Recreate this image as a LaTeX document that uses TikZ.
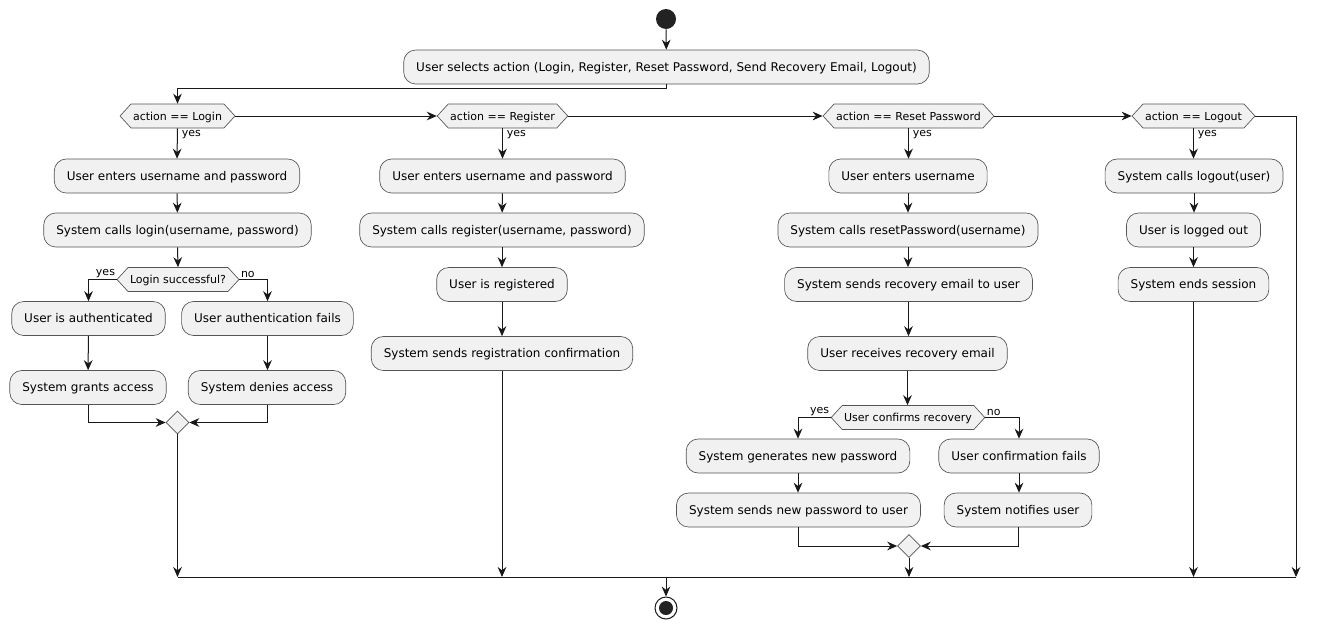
\documentclass[tikz,border=0pt]{standalone}
\usepackage{fontspec}
\setmainfont{DejaVu Sans}
\usetikzlibrary{arrows.meta,shapes.geometric,shapes.symbols}
\definecolor{boxfill}{HTML}{F1F1F1}
\definecolor{ink}{HTML}{181818}
\definecolor{edge}{HTML}{555555}
\definecolor{dot}{HTML}{222222}
\begin{document}
\begin{tikzpicture}[x=0.75pt,y=-0.75pt,
  act/.style={draw=edge, fill=boxfill, line width=0.5pt, rounded corners=9pt, minimum height=25.5pt, inner xsep=9.4pt, inner ysep=0pt, text height=6.6pt, text depth=0pt, font=\fontsize{9pt}{11pt}\selectfont},
  dec/.style={signal, signal to=east and west, signal pointer angle=95, draw=edge, fill=boxfill, line width=0.5pt, minimum height=18pt, inner xsep=1.5pt, inner ysep=0pt, text height=6pt, text depth=0pt, font=\fontsize{8.25pt}{10pt}\selectfont},
  mrg/.style={diamond, aspect=1, draw=edge, fill=boxfill, line width=0.5pt, minimum size=17.25pt, inner sep=0pt},
  arr/.style={draw=ink, line width=0.75pt, -{Stealth[length=7.5pt,width=6.5pt,inset=2.5pt]}},
  ln/.style={draw=ink, line width=0.75pt},
  lbl/.style={font=\fontsize{8.25pt}{10pt}\selectfont, inner sep=1pt, text=black}
]
\useasboundingbox (0,0) rectangle (1320,629);
\fill[white] (0,0) rectangle (1320,629);

% start / top
\node[circle, fill=dot, minimum size=15pt, inner sep=0pt] (start) at (666,19) {};
\node[act] (sel) at (666.5,67) {User selects action (Login, Register, Reset Password, Send Recovery Email, Logout)};

% decisions
\node[dec] (d1) at (177.5,116) {action == Login};
\node[dec] (d2) at (502.5,116) {action == Register};
\node[dec] (d3) at (908.5,116) {action == Reset Password};
\node[dec] (d4) at (1193.5,116) {action == Logout};

% login branch
\node[act] (l1) at (177,176) {User enters username and password};
\node[act] (l2) at (177.5,230) {System calls login(username, password)};
\node[dec] (ls) at (178,279.5) {Login successful?};
\node[act] (la) at (88.5,318.5) {User is authenticated};
\node[act] (lf) at (267.5,318.5) {User authentication fails};
\node[act] (lg) at (88,387.5) {System grants access};
\node[act] (ld) at (267,387.5) {System denies access};
\node[mrg] (m1) at (177.5,422.5) {};

% register branch
\node[act] (r1) at (502.5,176) {User enters username and password};
\node[act] (r2) at (502,230) {System calls register(username, password)};
\node[act] (r3) at (502,284.5) {User is registered};
\node[act] (r4) at (502,353.5) {System sends registration confirmation};

% reset branch
\node[act] (p1) at (908,176) {User enters username};
\node[act] (p2) at (908,230) {System calls resetPassword(username)};
\node[act] (p3) at (908.5,284.5) {System sends recovery email to user};
\node[act] (p4) at (907.5,353.5) {User receives recovery email};
\node[dec] (pc) at (908,417.5) {User confirms recovery};
\node[act] (py1) at (798,456) {System generates new password};
\node[act] (py2) at (798.5,510) {System sends new password to user};
\node[act] (pn1) at (1019,456) {User confirmation fails};
\node[act] (pn2) at (1018,510) {System notifies user};
\node[mrg] (m2) at (909,546) {};

% logout branch
\node[act] (o1) at (1194,176) {System calls logout(user)};
\node[act] (o2) at (1193.5,230) {User is logged out};
\node[act] (o3) at (1193.5,284.5) {System ends session};

% end
\node[circle, draw=ink, line width=0.75pt, fill=white, minimum size=16.5pt, inner sep=0pt] (end) at (666,608) {};
\node[circle, fill=dot, minimum size=10.5pt, inner sep=0pt] (endin) at (end.center) {};

% helper coordinates
\coordinate (top) at (177.5,88);
\coordinate (jL) at (177.5,577);
\coordinate (jR) at (1296,577);
\coordinate (jE) at (666,577);

% connectors top
\draw[arr] (start) -- (sel);
\draw[ln] (sel.south) |- (top);
\draw[arr] (top) -- (d1.north);
\draw[arr] (d1.east) -- (d2.west);
\draw[arr] (d2.east) -- (d3.west);
\draw[arr] (d3.east) -- (d4.west);
\draw[arr] (d4.east) -| (jR);

% login
\draw[arr] (d1.south) -- (l1.north);
\draw[arr] (l1) -- (l2);
\draw[arr] (l2.south) -- (ls.north);
\draw[arr] (ls.west) -| (la.north);
\draw[arr] (ls.east) -| (lf.north);
\draw[arr] (la) -- (lg);
\draw[arr] (lf.south) -- (lf.south |- ld.north);
\draw[arr] (lg.south) |- (m1.west);
\draw[arr] (ld.south) |- (m1.east);
\draw[arr] (m1.south) -- (jL);
\node[lbl, anchor=north west] at ([xshift=2pt]d1.south) {yes};
\node[lbl, anchor=south east] at (ls.west) {yes};
\node[lbl, anchor=south west] at (ls.east) {no};

% register
\draw[arr] (d2.south) -- (r1.north);
\draw[arr] (r1) -- (r2);
\draw[arr] (r2.south) -- (r2.south |- r3.north);
\draw[arr] (r3.south) -- (r3.south |- r4.north);
\draw[arr] (r4.south) -- (r4.south |- jL);
\node[lbl, anchor=north west] at ([xshift=2pt]d2.south) {yes};

% reset
\draw[arr] (d3.south) -- (d3.south |- p1.north);
\draw[arr] (p1.south) -- (p1.south |- p2.north);
\draw[arr] (p2.south) -- (p2.south |- p3.north);
\draw[arr] (p3.south) -- (p3.south |- p4.north);
\draw[arr] (p4.south) -- (p4.south |- pc.north);
\draw[arr] (pc.west) -| (py1.north);
\draw[arr] (pc.east) -| (pn1.north);
\draw[arr] (py1.south) -- (py1.south |- py2.north);
\draw[arr] (pn1.south) -- (pn1.south |- pn2.north);
\draw[arr] (py2.south) |- (m2.west);
\draw[arr] (pn2.south) |- (m2.east);
\draw[arr] (m2.south) -- (m2.south |- jL);
\node[lbl, anchor=north west] at ([xshift=2pt]d3.south) {yes};
\node[lbl, anchor=south east] at (pc.west) {yes};
\node[lbl, anchor=south west] at (pc.east) {no};

% logout
\draw[arr] (d4.south) -- (d4.south |- o1.north);
\draw[arr] (o1.south) -- (o1.south |- o2.north);
\draw[arr] (o2.south) -- (o2.south |- o3.north);
\draw[arr] (o3.south) -- (o3.south |- jL);
\node[lbl, anchor=north west] at ([xshift=2pt]d4.south) {yes};

% merge line and end
\draw[ln] (jL) -- (jR);
\draw[arr] (jE) -- (end.north);
\end{tikzpicture}
\end{document}
